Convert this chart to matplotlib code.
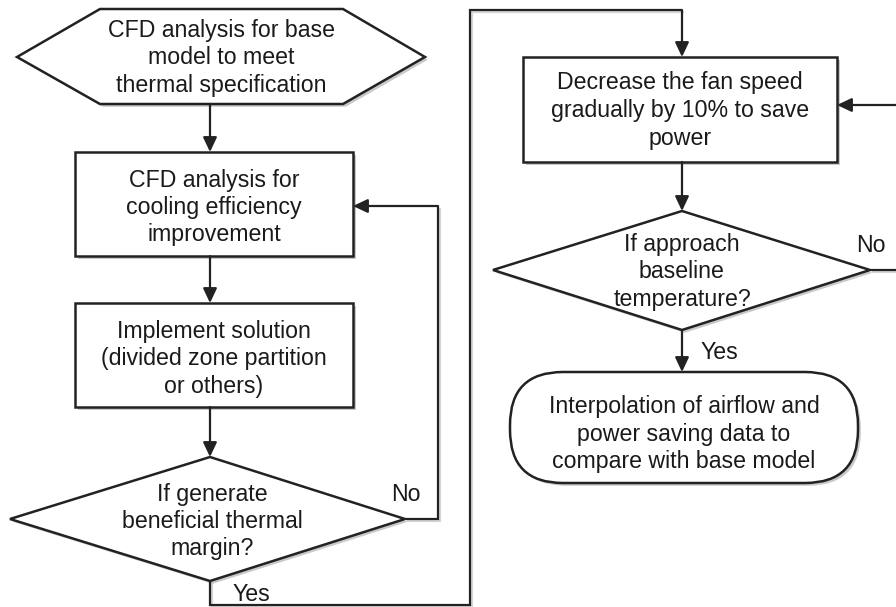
import matplotlib
matplotlib.use('Agg')
import matplotlib.pyplot as plt
import matplotlib.patheffects as pe
from matplotlib.patches import Polygon, Rectangle, FancyBboxPatch

# node texts
start_text = ["CFD analysis for base", "model to meet", "thermal specification"]
cfd_text = ["CFD analysis for", "cooling efficiency", "improvement"]
impl_text = ["Implement solution", "(divided zone partition", "or others)"]
check1_text = ["If generate", "beneficial thermal", "margin?"]
fan_text = ["Decrease the fan speed", "gradually by 10% to save", "power"]
check2_text = ["If approach", "baseline", "temperature?"]
end_text = ["Interpolation of airflow and", "power saving data to", "compare with base model"]
branch_yes = "Yes"
branch_no = "No"

LINE = '#222222'
TXT = '#1a1a1a'
FS = 16.7
LW_SHAPE = 1.8
LW_CONN = 1.6
shadow = [pe.withSimplePatchShadow(offset=(2, -2), shadow_rgbFace='#888888', alpha=0.45)]
lshadow = [pe.SimpleLineShadow(offset=(1.5, -1.5), shadow_color='#888888', alpha=0.35), pe.Normal()]

plt.rcParams['font.family'] = ['Liberation Sans', 'DejaVu Sans']

fig = plt.figure(figsize=(8.96, 6.07), dpi=100)
ax = fig.add_axes([0, 0, 1, 1])
ax.set_xlim(0, 896)
ax.set_ylim(607, 0)
ax.axis('off')


def put_lines(lines, cx, cy, step=27.5):
    n = len(lines)
    for i, s in enumerate(lines):
        ax.text(cx, cy + (i - (n - 1) / 2) * step, s, ha='center', va='center_baseline',
                fontsize=FS, color=TXT, zorder=5)


def add_shape(p):
    p.set_path_effects(shadow)
    ax.add_patch(p)


def conn(pts, arrow=True):
    xs = [p[0] for p in pts]
    ys = [p[1] for p in pts]
    if arrow:
        ax.plot(xs[:-1], ys[:-1], color=LINE, lw=LW_CONN, solid_joinstyle='miter',
                solid_capstyle='butt', zorder=3, path_effects=lshadow)
        ax.annotate('', xy=pts[-1], xytext=pts[-2],
                    arrowprops=dict(arrowstyle='-|>,head_length=0.55,head_width=0.26',
                                    color=LINE, lw=LW_CONN, mutation_scale=16,
                                    shrinkA=0, shrinkB=0), zorder=3)
    else:
        ax.plot(xs, ys, color=LINE, lw=LW_CONN, zorder=3, path_effects=lshadow)


# start hexagon
add_shape(Polygon([(17, 57), (100, 9), (343, 9), (425, 57), (343, 104), (100, 104)],
                  closed=True, fc='white', ec=LINE, lw=LW_SHAPE, joinstyle='miter', zorder=2))
put_lines(start_text, 221, 55.5)

# process boxes
add_shape(Rectangle((75, 152), 278, 104, fc='white', ec=LINE, lw=LW_SHAPE, zorder=2))
put_lines(cfd_text, 214, 205)
add_shape(Rectangle((75, 303), 278, 104, fc='white', ec=LINE, lw=LW_SHAPE, zorder=2))
put_lines(impl_text, 214, 356.5)

# decision 1
add_shape(Polygon([(10, 519), (210, 457), (405, 519), (210, 581)], closed=True,
                  fc='white', ec=LINE, lw=LW_SHAPE, zorder=2))
put_lines(check1_text, 212, 519)

# fan box
add_shape(Rectangle((523, 57), 314, 105, fc='white', ec=LINE, lw=LW_SHAPE, zorder=2))
put_lines(fan_text, 680, 108)

# decision 2
add_shape(Polygon([(493, 270), (682, 211), (870, 270), (682, 330)], closed=True,
                  fc='white', ec=LINE, lw=LW_SHAPE, zorder=2))
put_lines(check2_text, 682, 269.5)

# terminal
add_shape(FancyBboxPatch((510, 372), 348, 111, boxstyle='round,pad=0,rounding_size=53',
                         fc='white', ec=LINE, lw=LW_SHAPE, zorder=2))
put_lines(end_text, 684, 431.5)

# connectors
conn([(210, 104), (210, 152)])
conn([(210, 256), (210, 303)])
conn([(210, 407), (210, 457)])
conn([(405, 519), (438, 519), (438, 206), (353, 206)])
conn([(210, 581), (210, 605), (470, 605), (470, 10), (682, 10), (682, 57)])
conn([(682, 162), (682, 211)])
conn([(682, 330), (682, 372)])
conn([(870, 270), (900, 270), (900, 105), (837, 105)])

# branch labels
ax.text(406, 492, branch_no, ha='center', va='center_baseline', fontsize=FS, color=TXT)
ax.text(251, 592, branch_yes, ha='center', va='center_baseline', fontsize=FS, color=TXT)
ax.text(871, 243, branch_no, ha='center', va='center_baseline', fontsize=FS, color=TXT)
ax.text(719, 350, branch_yes, ha='center', va='center_baseline', fontsize=FS, color=TXT)

fig.savefig('out.png', dpi=100, facecolor='white')
